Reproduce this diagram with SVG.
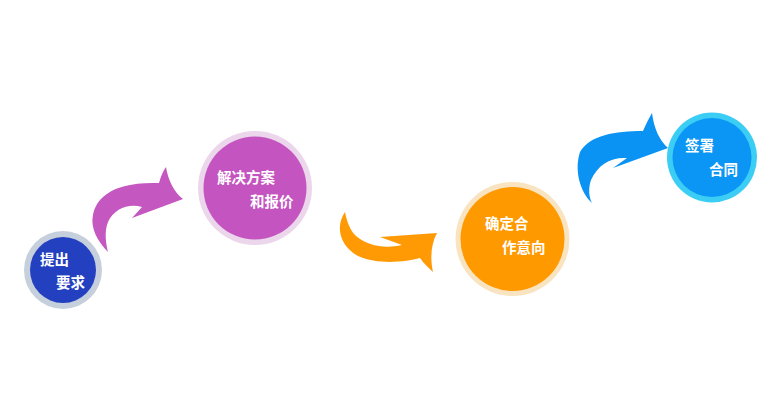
<svg xmlns="http://www.w3.org/2000/svg" width="780" height="415" viewBox="0 0 780 415">
<style>
  .t { font-family: "Noto Sans CJK SC", "Liberation Sans", sans-serif; font-size: 14.5px; font-weight: bold; fill: #ffffff; }
</style>
<rect width="780" height="415" fill="#ffffff"/>
<g id="connectors">
  <path id="arrow1" fill="#c557c1" d="M108,252 C98,242 90,228 93,215 C96,198 112,188 130,185 C140,183 150,183 159,183 C161,176 163,171 166,167 C168,180 174,192 183,199 L132,218 L142,207 C130,203 114,208 108,222 C104,232 106,244 108,252 Z"/>
  <path id="arrow2" fill="#ff9a05" d="M345,212 C336,225 338,245 358,256 C378,265 405,262 420,258 C424,264 429,268 433,272 C430,258 431,244 437,233 L380,237 L402,245 C385,249 368,246 356,236 C350,230 347,222 345,212 Z"/>
  <path id="arrow3" fill="#0b93f3" d="M592,203 C580,192 574,170 580,152 C590,135 615,131 643,131 C646,124 649,118 652,113 C654,128 659,140 668,148 L613,168 L627,158 C610,157 598,165 591,180 C588,189 589,197 592,203 Z"/>
</g>
<g id="node1">
  <circle cx="63" cy="270" r="39" fill="#c6cfdc"/>
  <circle cx="63" cy="270" r="33" fill="#2340c0"/>
  <text class="t" x="40" y="265">提出</text>
  <text class="t" x="56" y="288">要求</text>
</g>
<g id="node2">
  <circle cx="255" cy="188" r="57" fill="#ecd6ec"/>
  <circle cx="255" cy="188" r="51.5" fill="#c455c0"/>
  <text class="t" x="217" y="183">解决方案</text>
  <text class="t" x="250" y="207">和报价</text>
</g>
<g id="node3">
  <circle cx="512.5" cy="239" r="57" fill="#f9e4c2"/>
  <circle cx="512.5" cy="239" r="52" fill="#ff9900"/>
  <text class="t" x="485" y="229">确定合</text>
  <text class="t" x="502" y="253">作意向</text>
</g>
<g id="node4">
  <circle cx="712" cy="157.5" r="45" fill="#3ccdf5"/>
  <circle cx="712" cy="157.5" r="39.5" fill="#0b96f5"/>
  <text class="t" x="685" y="151">签署</text>
  <text class="t" x="709" y="175">合同</text>
</g>
</svg>
